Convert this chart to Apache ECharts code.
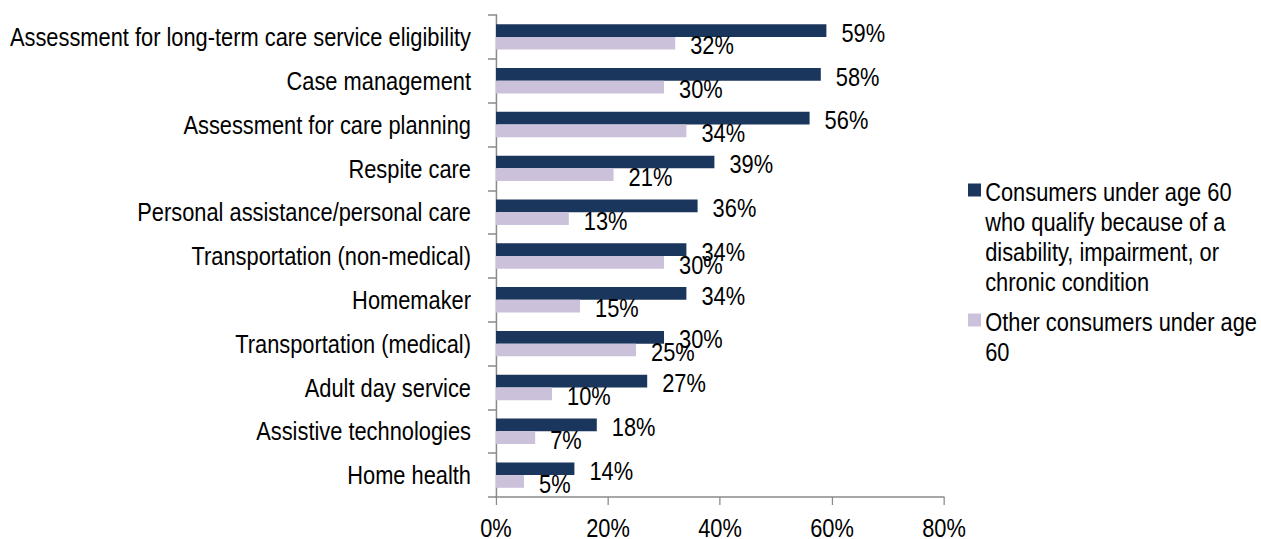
<!DOCTYPE html>
<html>
<head>
<meta charset="utf-8">
<script src="https://cdn.jsdelivr.net/npm/echarts@6/dist/echarts.min.js"></script>
<style>
  html, body { margin: 0; padding: 0; background: #fff; overflow: hidden; width: 1261px; height: 539px; }
  /* The chart is laid out on a wider canvas and squeezed horizontally so the
     Arial-metric font reads as a narrow face. */
  #chart { width: 1501px; height: 539px; transform: scaleX(0.84); transform-origin: 0 0; }
</style>
</head>
<body>
<div id="chart"></div>
<script>
// Services offered, listed top to bottom
const categories = [
  'Assessment for long-term care service eligibility',
  'Case management',
  'Assessment for care planning',
  'Respite care',
  'Personal assistance/personal care',
  'Transportation (non-medical)',
  'Homemaker',
  'Transportation (medical)',
  'Adult day service',
  'Assistive technologies',
  'Home health'
];

// Share of agencies serving each group (%)
const disabilityUnder60 = [59, 58, 56, 39, 36, 34, 34, 30, 27, 18, 14];
const otherUnder60 = [32, 30, 34, 21, 13, 30, 15, 25, 10, 7, 5];

const seriesNames = [
  'Consumers under age 60 who qualify because of a disability, impairment, or chronic condition',
  'Other consumers under age 60'
];
// Legend text, broken into lines
const legendLines = [
  ['Consumers under age 60', 'who qualify because of a', 'disability, impairment, or', 'chronic condition'],
  ['Other consumers under age', '60']
];

const SX = 0.84; // horizontal squeeze applied by CSS
const px = v => v / SX; // horizontal length in page pixels -> chart units

const FONT = "'Liberation Sans', Arial, sans-serif";
const DARK = '#1b365d';
const LIGHT = '#ccc1da';
const AXIS = '#8a8a8a';

// Square swatch beside the first legend line; the zero-area vertical
// segment stretches the icon box to the full text height.
function swatch(w, h) {
  return 'path://M0 0L0 ' + h + 'M0 6.5L' + w + ' 6.5L' + w + ' 19.5L0 19.5Z';
}

function legendFor(i, top) {
  const lines = legendLines[i];
  const h = lines.length * 30;
  const w = px(13);
  return {
    orient: 'vertical',
    left: px(968),
    top: top,
    padding: 0,
    itemWidth: w,
    itemHeight: h,
    itemStyle: { borderWidth: 0 },
    data: [{ name: seriesNames[i], icon: swatch(w, h) }],
    formatter: () => lines.join('\n'),
    textStyle: { fontFamily: FONT, fontSize: 26, lineHeight: 30, color: '#000' }
  };
}

const label = {
  show: true,
  position: 'right',
  distance: px(15),
  offset: [0, 2],
  formatter: '{c}%',
  fontFamily: FONT,
  fontSize: 26,
  color: '#000'
};

const chart = echarts.init(document.getElementById('chart'), null, { renderer: 'svg' });
chart.setOption({
  animation: false,
  backgroundColor: '#fff',
  textStyle: { fontFamily: FONT },
  grid: {
    left: px(496), top: 15, width: px(448), height: 482,
    containLabel: false, outerBoundsMode: 'none'
  },
  legend: [legendFor(0, 177), legendFor(1, 307)],
  xAxis: {
    type: 'value',
    min: 0,
    max: 80,
    interval: 20,
    axisLine: { show: true, lineStyle: { color: AXIS, width: 1.5 } },
    axisTick: { show: true, length: 8, lineStyle: { color: AXIS, width: 1.5 } },
    splitLine: { show: false },
    axisLabel: { formatter: '{value}%', fontFamily: FONT, fontSize: 26, color: '#000', margin: 18 }
  },
  yAxis: {
    type: 'category',
    inverse: true,
    data: categories,
    axisLine: { show: true, lineStyle: { color: AXIS, width: 1.8 } },
    axisTick: { show: true, length: px(8), lineStyle: { color: AXIS, width: 1.5 } },
    axisLabel: { fontFamily: FONT, fontSize: 26, color: '#000', margin: px(25) }
  },
  series: [
    {
      name: seriesNames[0],
      type: 'bar',
      data: disabilityUnder60,
      itemStyle: { color: DARK },
      barGap: '0%',
      barCategoryGap: '42%',
      label: label
    },
    {
      name: seriesNames[1],
      type: 'bar',
      data: otherUnder60,
      itemStyle: { color: LIGHT },
      barGap: '0%',
      barCategoryGap: '42%',
      label: label
    }
  ]
});
</script>
</body>
</html>
